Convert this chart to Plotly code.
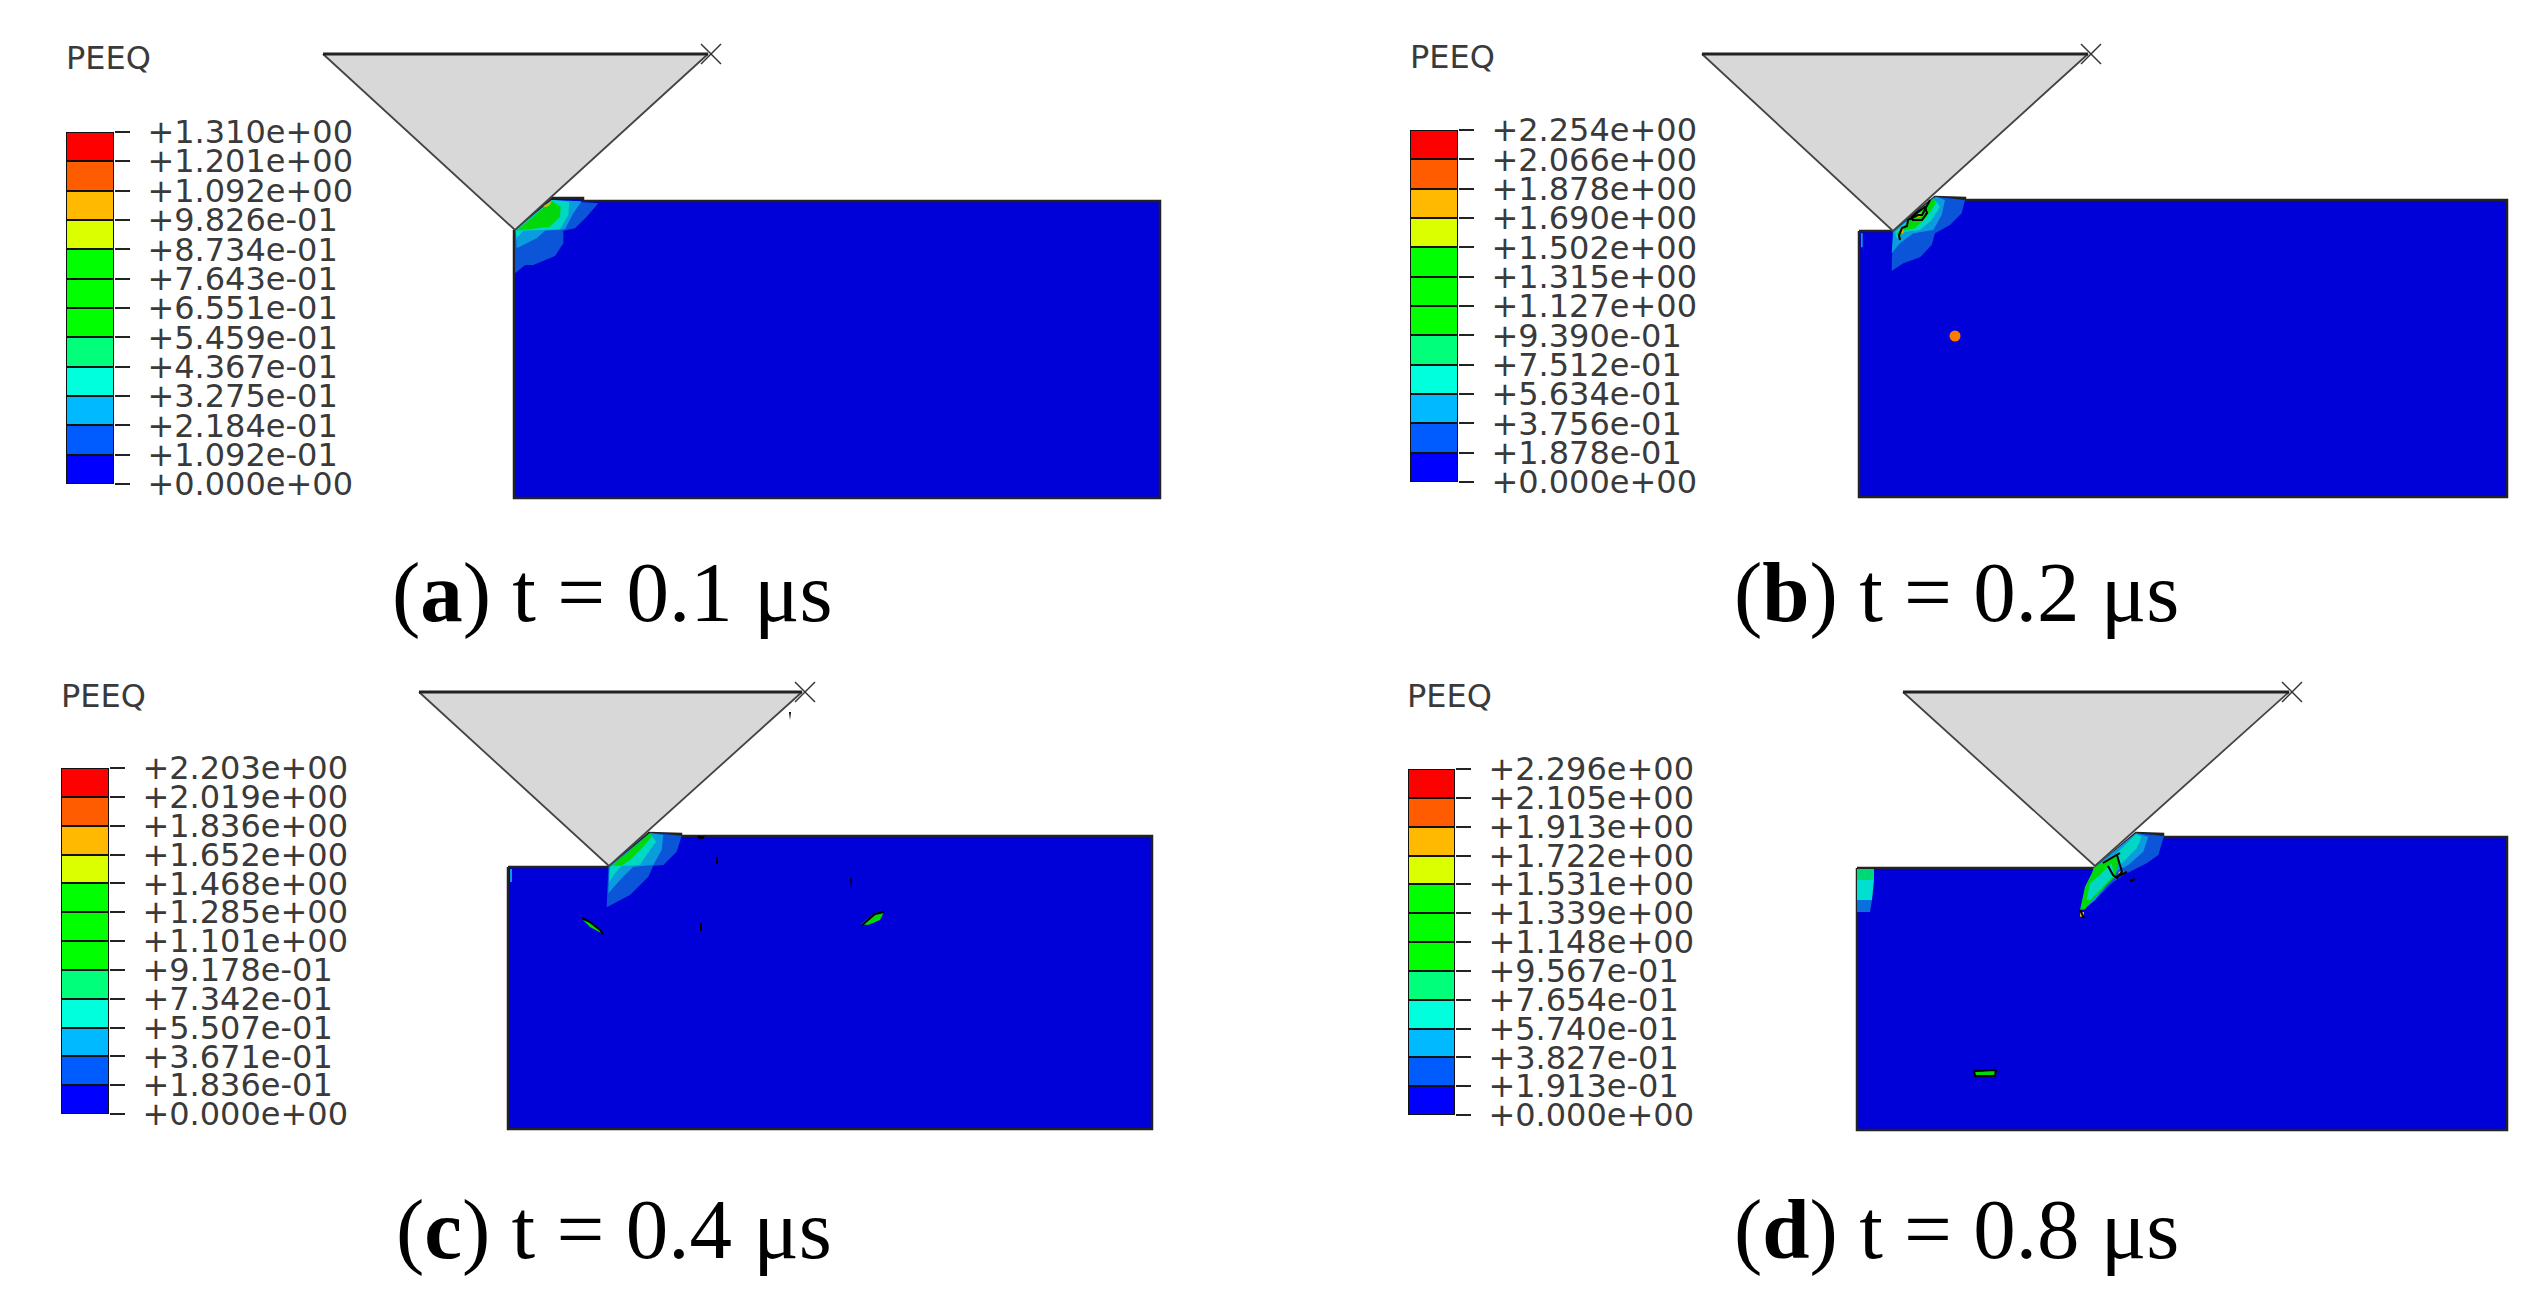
import plotly.graph_objects as go

W, H = 2539, 1315

# ---- colour legend values (top to bottom) ----
labels_a = ["+1.310e+00","+1.201e+00","+1.092e+00","+9.826e-01","+8.734e-01","+7.643e-01","+6.551e-01",
            "+5.459e-01","+4.367e-01","+3.275e-01","+2.184e-01","+1.092e-01","+0.000e+00"]
labels_b = ["+2.254e+00","+2.066e+00","+1.878e+00","+1.690e+00","+1.502e+00","+1.315e+00","+1.127e+00",
            "+9.390e-01","+7.512e-01","+5.634e-01","+3.756e-01","+1.878e-01","+0.000e+00"]
labels_c = ["+2.203e+00","+2.019e+00","+1.836e+00","+1.652e+00","+1.468e+00","+1.285e+00","+1.101e+00",
            "+9.178e-01","+7.342e-01","+5.507e-01","+3.671e-01","+1.836e-01","+0.000e+00"]
labels_d = ["+2.296e+00","+2.105e+00","+1.913e+00","+1.722e+00","+1.531e+00","+1.339e+00","+1.148e+00",
            "+9.567e-01","+7.654e-01","+5.740e-01","+3.827e-01","+1.913e-01","+0.000e+00"]
band_colors = ["#ff0000","#ff5c00","#ffb900","#dcff00","#00ff00","#00ff00","#00ff00",
               "#00ff7a","#00ffdc","#00b9ff","#005cff","#0000ff"]
captions = ["(<b>a</b>) t = 0.1 μs","(<b>b</b>) t = 0.2 μs","(<b>c</b>) t = 0.4 μs","(<b>d</b>) t = 0.8 μs"]

# ---- model outlines, in picture pixels ----
body_a = [(514,230),(552,198),(583,198),(583,201),(1160,201),(1160,498),(514,498)]
body_b = [(1859,231),(1893,231),(1935,197),(1965,198),(1965,200),(2507,200),(2507,497),(1859,497)]
body_c = [(508,867),(609,867),(649,833),(681,834),(681,836),(1152,836),(1152,1129),(508,1129)]
body_d = [(1857,868),(2095,868),(2136,833),(2163,834),(2163,837),(2507,837),(2507,1130),(1857,1130)]
tool_a = [(323,54),(708,54),(515,230)]
tool_b = [(1702,54),(2088,54),(1893,231)]
tool_c = [(419,692),(802,692),(609,866)]
tool_d = [(1903,692),(2289,692),(2095,866)]

# ---- PEEQ contour bands, read in crop pixels (3x) around each contact zone ----
origin_a, origin_b, origin_c, origin_d = (470,170), (1850,170), (580,820), (2040,820)
C1, C2, C3, C4, C5 = "#0a55d8", "#0a9cdc", "#00d8c4", "#00d80a", "#e8b000"
CS = "#00d878"
zones_a = [
 (C1,[(245,90),(385,100),(350,140),(315,175),(280,182),(280,220),(255,258),(190,285),(165,285),(135,310),(135,180)]),
 (C2,[(245,90),(335,94),(310,130),(285,178),(225,182),(200,205),(140,235),(137,180)]),
 (C3,[(245,90),(298,95),(295,135),(270,178),(160,182),(140,205),(137,180)]),
 (C4,[(245,92),(272,110),(270,140),(240,170),(140,182)]),
 (C5,[(220,108),(245,94),(240,104),(228,112)]),
]
zones_b = [
 (C1,[(255,80),(345,90),(335,130),(300,165),(255,190),(245,225),(210,262),(160,280),(125,303),(128,185)]),
 (C2,[(258,80),(285,90),(275,135),(250,180),(190,190),(150,220),(125,250),(130,185)]),
 (C3,[(250,85),(270,110),(245,150),(210,180),(165,185),(140,205),(135,185)]),
 (C4,[(250,85),(258,100),(230,140),(195,175),(160,182),(148,205),(140,190)]),
 (C2,[(33,190),(38,190),(38,232),(33,232)]),
]
zones_c = [
 (C1,[(210,38),(305,47),(290,95),(250,135),(220,137),(205,170),(150,225),(80,262),(85,140)]),
 (C2,[(210,40),(250,45),(245,90),(220,135),(160,140),(125,175),(85,220),(88,140)]),
 (C3,[(212,42),(228,65),(200,105),(180,135),(125,138),(105,160),(88,185),(90,140)]),
 (C4,[(207,42),(220,45),(185,85),(150,120),(125,137),(95,137)]),
]
zones_d = [
 (C1,[(288,40),(372,48),(355,105),(320,130),(250,165),(215,190),(160,245),(130,270),(160,145)]),
 (C2,[(288,40),(325,50),(310,95),(265,135),(235,150),(165,240),(135,265),(160,145)]),
 (C3,[(288,42),(305,50),(290,85),(240,135),(225,105)]),
 (C4,[(165,140),(225,105),(235,125),(225,170),(150,245),(135,268),(120,270),(135,200),(150,170)]),
 (C3,[(180,165),(215,130),(222,165),(150,240),(140,240),(150,190)]),
 (C5,[(120,276),(132,276),(132,290),(120,290)]),
 (C5,[(236,155),(252,155),(252,164),(236,164)]),
]
# extra small patches, in picture pixels: (fill, outline points)
spots_a = []
spots_b = [(C5,[(1916,218),(1922,216),(1924,211),(1918,214)]),
           (C5,[(1900,231),(1904,226),(1903,234)])]
spots_c = [(C2,[(510,869),(512,869),(512,882),(510,882)]),
           (C4,[(583,920),(589,921),(600,930),(601,933),(590,927)]),
           (C4,[(861,924),(875,913),(884,912),(880,920),(868,925)]),
           ("#000000",[(789,712),(791,712),(790,720)]),
           ("#000000",[(716,857),(718,857),(718,864),(716,864)]),
           ("#000000",[(700,923),(702,923),(702,931),(700,931)]),
           ("#000000",[(850,878),(852,878),(851,888)]),
           ("#000000",[(697,836),(705,836),(703,839),(699,839)])]
spots_d = [(CS,[(1857,869),(1874,869),(1874,880),(1857,880)]),
           ("#00e0d0",[(1857,880),(1874,880),(1872,900),(1857,900)]),
           ("#0a70e0",[(1857,900),(1872,900),(1870,912),(1857,912)]),
           (C4,[(1975,1072),(1996,1070),(1996,1075),(1975,1076)])]
# black crack outlines, in picture pixels
cracks_b = [[(1900,240),(1899,235),(1902,228),(1907,226),(1908,220),(1918,215),(1922,215),(1926,208),(1927,205),(1930,200)],
            [(1912,220),(1922,220),(1927,213),(1925,207),(1918,212),(1912,217),(1912,220)]]
cracks_c = [[(582,918),(590,922),(600,930),(603,934)],[(862,925),(875,914),(884,912)]]
cracks_d = [[(2108,866),(2113,875),(2117,878),(2122,872),(2117,855)],
            [(2116,877),(2127,872)],[(2130,881),(2135,879)],
            [(2103,863),(2120,853)],
            [(2080,910),(2084,918)],[(1974,1071),(1996,1070),(1995,1076),(1975,1076),(1974,1071)]]
dot_b = (1955,336)

panels = [
 dict(lab=labels_a, body=body_a, tool=tool_a, org=origin_a, zones=zones_a, spots=spots_a, cracks=[],
      bar=(66,114,132,484), peeq=(64,58), cap=(390,592)),
 dict(lab=labels_b, body=body_b, tool=tool_b, org=origin_b, zones=zones_b, spots=spots_b, cracks=cracks_b,
      bar=(1410,1458,130,482), peeq=(1408,57), cap=(1732,592)),
 dict(lab=labels_c, body=body_c, tool=tool_c, org=origin_c, zones=zones_c, spots=spots_c, cracks=cracks_c,
      bar=(61,109,768,1114), peeq=(59,696), cap=(394,1229)),
 dict(lab=labels_d, body=body_d, tool=tool_d, org=origin_d, zones=zones_d, spots=spots_d, cracks=cracks_d,
      bar=(1408,1455,769,1115), peeq=(1405,696), cap=(1732,1229)),
]

fig = go.Figure()

def poly(pts, fill=None, line=None, lw=0):
    xs = [p[0] for p in pts]; ys = [p[1] for p in pts]
    if fill is not None:
        xs = xs + xs[:1]; ys = ys + ys[:1]
    fig.add_trace(go.Scatter(x=xs, y=ys, mode="lines", hoverinfo="skip", showlegend=False,
                             fill="toself" if fill else None, fillcolor=fill,
                             line=dict(color=line or "rgba(0,0,0,0)", width=lw)))

for p in panels:
    poly(p["body"], fill="#0000d8", line="#222222", lw=2.5)
    ox, oy = p["org"]
    for col, pts in p["zones"]:
        poly([(ox + x/3, oy + y/3) for x, y in pts], fill=col)
    for col, pts in p["spots"]:
        poly(pts, fill=col)
    for c in p["cracks"]:
        poly(c, line="#000000", lw=2)
    poly(p["tool"], fill="#d8d8d8", line="#444444", lw=1.8)
    poly(p["tool"][:2], line="#222222", lw=3)
    # reference-point cross at the tool corner
    cx, cy = p["tool"][1]
    cx += 3
    poly([(cx-10,cy-10),(cx+10,cy+10)], line="#333333", lw=1.5)
    poly([(cx+10,cy-10),(cx-10,cy+10)], line="#333333", lw=1.5)

fig.add_trace(go.Scatter(x=[dot_b[0]], y=[dot_b[1]], mode="markers", hoverinfo="skip", showlegend=False,
                         marker=dict(color="#ff7a00", size=11, line=dict(width=0))))

layout_axes = {}
for i, p in enumerate(panels):
    n = i + 2
    vals = [float(s) for s in p["lab"]]
    x0, x1, y0, y1 = p["bar"]
    fig.add_trace(go.Bar(x=[0]*12, y=[vals[k]-vals[k+1] for k in range(12)], base=vals[1:], width=1,
                         marker=dict(color=band_colors, line=dict(color="#111111", width=2)),
                         hoverinfo="skip", showlegend=False, xaxis=f"x{n}", yaxis=f"y{n}"))
    layout_axes[f"xaxis{n}"] = dict(domain=[x0/W, x1/W], range=[-0.5, 0.5], visible=False, anchor=f"y{n}", automargin=False)
    layout_axes[f"yaxis{n}"] = dict(domain=[1-y1/H, 1-y0/H], range=[0, vals[0]], anchor=f"x{n}", side="right",
                                    tickmode="array", tickvals=vals, ticktext=p["lab"], ticks="outside",
                                    ticklen=15, tickwidth=2, tickcolor="#222222", showgrid=False, zeroline=False,
                                    showline=False, ticklabelstandoff=11, automargin=False,
                                    tickfont=dict(family="DejaVu Sans", size=32, color="#3a3a3a"))

annots = []
for p, cap in zip(panels, captions):
    annots.append(dict(x=p["peeq"][0], y=p["peeq"][1], xref="x", yref="y", text="PEEQ", showarrow=False,
                       xanchor="left", yanchor="middle",
                       font=dict(family="DejaVu Sans", size=32, color="#3a3a3a")))
    annots.append(dict(x=p["cap"][0], y=p["cap"][1], xref="x", yref="y", text=cap, showarrow=False,
                       xanchor="left", yanchor="middle",
                       font=dict(family="Liberation Serif", size=85, color="#000000")))

fig.update_layout(width=W, height=H, margin=dict(l=0, r=0, t=0, b=0), paper_bgcolor="white", plot_bgcolor="rgba(0,0,0,0)",
                  barmode="overlay", bargap=0, showlegend=False, annotations=annots,
                  xaxis=dict(range=[0, W], visible=False, domain=[0, 1], automargin=False),
                  yaxis=dict(range=[H, 0], visible=False, domain=[0, 1], automargin=False),
                  **layout_axes)
fig.write_html("out.html", config={"displayModeBar": False},
               post_script="document.body.style.margin='0';document.body.style.overflow='hidden';")
